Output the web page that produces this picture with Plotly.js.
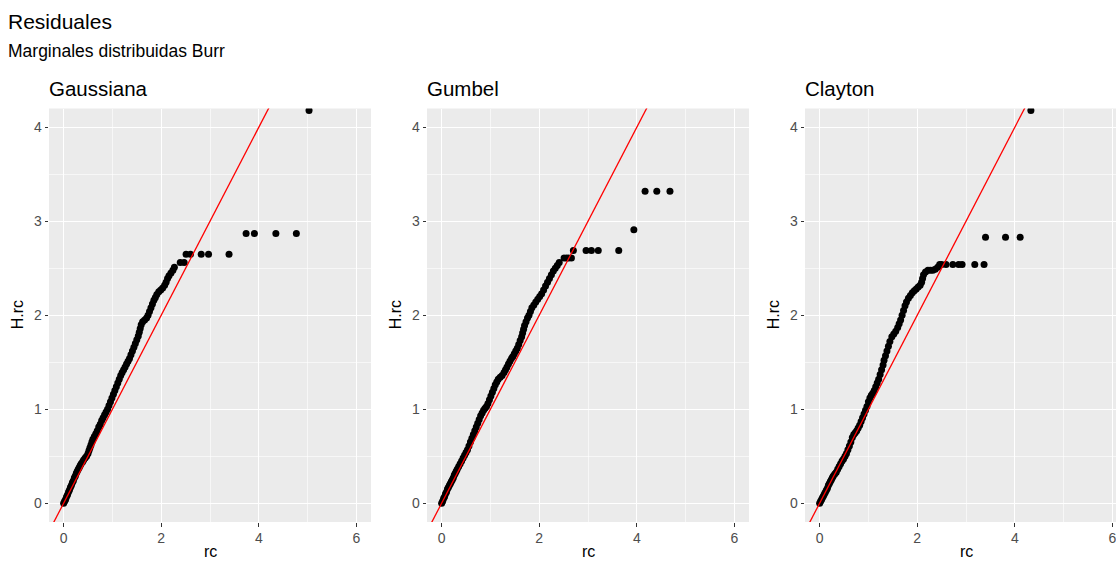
<!DOCTYPE html>
<html>
<head>
<meta charset="utf-8">
<script src="https://cdn.plot.ly/plotly-3.0.1.min.js"></script>
<style>
html, body { margin: 0; padding: 0; overflow: hidden; background: #ffffff; }
#chart { width: 1130px; height: 562px; }
</style>
</head>
<body>
<div id="chart"></div>
<script>
// ---------------- DATA ----------------
const panelTitles = ["Gaussiana", "Gumbel", "Clayton"];
const chartTitle = "Residuales";
const chartSubtitle = "Marginales distribuidas Burr";
const xLabel = "rc";
const yLabel = "H.rc";
const xTicks = [0, 2, 4, 6];
const yTicks = [0, 1, 2, 3, 4];
// reference line y = intercept + slope * x
const ablineIntercept = 0;
const ablineSlope = 1;

const gaussRc = [0.00,0.02,0.04,0.06,0.08,0.10,0.12,0.14,0.16,0.18,0.20,0.22,0.24,0.26,0.28,0.30,0.32,0.34,0.36,0.39,0.41,0.44,0.47,0.50,0.52,0.54,0.56,0.58,0.60,0.63,0.66,0.69,0.72,0.75,0.78,0.81,0.84,0.87,0.90,0.93,0.96,0.99,1.02,1.05,1.08,1.11,1.14,1.17,1.20,1.23,1.26,1.29,1.32,1.35,1.38,1.41,1.44,1.47,1.50,1.53,1.55,1.57,1.59,1.62,1.66,1.70,1.73,1.76,1.79,1.82,1.85,1.88,1.91,1.95,1.99,2.03,2.07,2.10,2.13,2.16,2.20,2.24,2.27,
  2.39,2.47,2.51,2.60,2.82,2.97,3.39,3.74,3.91,4.35,4.77,5.03];
const gaussHrc = [0.00,0.02,0.04,0.07,0.09,0.12,0.14,0.17,0.19,0.22,0.24,0.27,0.29,0.32,0.34,0.36,0.38,0.40,0.42,0.44,0.46,0.48,0.50,0.53,0.56,0.59,0.62,0.65,0.68,0.71,0.74,0.77,0.81,0.84,0.88,0.91,0.94,0.97,1.00,1.04,1.08,1.12,1.16,1.20,1.24,1.28,1.32,1.36,1.39,1.42,1.45,1.48,1.51,1.54,1.58,1.62,1.66,1.70,1.74,1.78,1.82,1.86,1.90,1.93,1.95,1.97,2.00,2.04,2.08,2.12,2.16,2.19,2.22,2.25,2.27,2.29,2.32,2.35,2.39,2.42,2.45,2.48,2.51,
  2.56,2.56,2.65,2.65,2.65,2.65,2.65,2.87,2.87,2.87,2.87,4.18];

const gumbelRc = [0.00,0.02,0.04,0.06,0.08,0.10,0.12,0.14,0.16,0.18,0.20,0.22,0.24,0.26,0.28,0.30,0.32,0.35,0.38,0.41,0.44,0.47,0.50,0.53,0.56,0.59,0.62,0.65,0.68,0.71,0.74,0.77,0.80,0.83,0.86,0.89,0.92,0.95,0.98,1.01,1.04,1.07,1.10,1.13,1.16,1.20,1.24,1.28,1.31,1.34,1.37,1.40,1.43,1.46,1.49,1.52,1.55,1.58,1.61,1.64,1.66,1.68,1.70,1.73,1.76,1.79,1.82,1.85,1.89,1.93,1.97,2.01,2.05,2.09,2.13,2.17,2.21,2.25,2.29,2.33,2.37,2.41,
  2.51,2.56,2.60,2.66,2.70,2.96,3.07,3.21,3.63,3.94,4.17,4.41,4.68];
const gumbelHrc = [0.00,0.02,0.05,0.07,0.10,0.12,0.15,0.17,0.19,0.21,0.23,0.25,0.27,0.30,0.32,0.34,0.36,0.39,0.42,0.45,0.48,0.51,0.54,0.57,0.61,0.65,0.69,0.73,0.77,0.81,0.85,0.89,0.93,0.96,0.99,1.01,1.03,1.06,1.10,1.14,1.18,1.22,1.26,1.29,1.32,1.34,1.36,1.39,1.42,1.45,1.48,1.51,1.54,1.56,1.59,1.62,1.65,1.69,1.73,1.77,1.81,1.85,1.89,1.93,1.97,2.00,2.04,2.08,2.11,2.14,2.17,2.20,2.23,2.27,2.31,2.35,2.39,2.43,2.47,2.50,2.53,2.56,
  2.61,2.61,2.61,2.61,2.69,2.69,2.69,2.69,2.69,2.91,3.32,3.32,3.32];

const claytonRc = [0.00,0.02,0.04,0.06,0.08,0.10,0.12,0.14,0.16,0.18,0.20,0.22,0.24,0.26,0.28,0.31,0.34,0.37,0.40,0.43,0.46,0.49,0.52,0.55,0.58,0.61,0.64,0.67,0.70,0.73,0.76,0.79,0.82,0.85,0.88,0.91,0.94,0.97,1.00,1.03,1.06,1.09,1.12,1.15,1.18,1.21,1.24,1.27,1.30,1.32,1.35,1.38,1.41,1.44,1.48,1.52,1.56,1.60,1.63,1.66,1.69,1.72,1.75,1.78,1.82,1.86,1.90,1.94,1.98,2.02,2.06,2.09,2.11,2.13,2.17,2.22,2.27,2.32,2.37,2.42,2.46,
  2.50,2.59,2.73,2.85,2.92,3.18,3.37,3.40,3.81,4.11,4.33];
const claytonHrc = [0.00,0.02,0.04,0.06,0.08,0.10,0.12,0.14,0.16,0.19,0.21,0.23,0.25,0.27,0.29,0.31,0.33,0.36,0.39,0.42,0.45,0.47,0.50,0.53,0.57,0.61,0.65,0.70,0.73,0.75,0.77,0.80,0.83,0.87,0.91,0.95,0.99,1.03,1.08,1.12,1.15,1.17,1.20,1.24,1.28,1.32,1.37,1.42,1.47,1.52,1.57,1.62,1.67,1.72,1.77,1.80,1.83,1.87,1.91,1.95,2.00,2.05,2.10,2.14,2.18,2.21,2.24,2.26,2.28,2.30,2.32,2.35,2.39,2.43,2.46,2.48,2.48,2.48,2.49,2.51,2.54,
  2.54,2.54,2.54,2.54,2.54,2.54,2.54,2.83,2.83,2.83,4.18];

const seriesX = [gaussRc, gumbelRc, claytonRc];
const seriesY = [gaussHrc, gumbelHrc, claytonHrc];

// ---------------- LAYOUT ----------------
const W = 1130, H = 562;
const xRange = [-0.3, 6.3];
const yRange = [-0.2, 4.2];
const panelLeft = [49, 427, 805];
const panelWidth = 322;
const panelTop = 108.5, panelBottom = 522;
const px = v => v / W;
const py = v => (H - v) / H;

const font = "Liberation Sans, Arial, Helvetica, sans-serif";
const traces = [];
const layout = {
  width: W, height: H,
  margin: {l: 0, r: 0, t: 0, b: 0, pad: 0},
  paper_bgcolor: "#ffffff",
  plot_bgcolor: "#EBEBEB",
  showlegend: false,
  font: {family: font, color: "#000000"},
  annotations: [],
};

for (let i = 0; i < 3; i++) {
  const sfx = i === 0 ? "" : String(i + 1);
  const xa = "x" + sfx, ya = "y" + sfx;
  traces.push({
    type: "scatter", mode: "markers",
    x: seriesX[i], y: seriesY[i],
    xaxis: xa, yaxis: ya,
    marker: {color: "#000000", size: 7, line: {width: 0}},
    cliponaxis: true, hoverinfo: "skip"
  });
  const lx = [xRange[0], xRange[1]];
  traces.push({
    type: "scatter", mode: "lines",
    x: lx, y: lx.map(v => ablineIntercept + ablineSlope * v),
    xaxis: xa, yaxis: ya,
    line: {color: "#FF0000", width: 1.3},
    hoverinfo: "skip"
  });
  const common = {
    showgrid: true, gridcolor: "#FFFFFF", gridwidth: 1.3,
    zeroline: false, showline: false,
    ticks: "outside", ticklen: 3.5, tickwidth: 1, tickcolor: "#333333",
    tickfont: {family: font, size: 14, color: "#4D4D4D"},
    tickmode: "array", fixedrange: true, automargin: false,
  };
  layout["xaxis" + sfx] = Object.assign({}, common, {
    domain: [px(panelLeft[i]), px(panelLeft[i] + panelWidth)],
    range: xRange, tickvals: xTicks, ticktext: xTicks.map(String),
    anchor: ya,
    minor: {tickmode: "array", tickvals: [1, 3, 5], showgrid: true, gridcolor: "#FFFFFF", gridwidth: 0.6, ticks: ""}
  });
  layout["yaxis" + sfx] = Object.assign({}, common, {
    domain: [py(panelBottom), py(panelTop)],
    range: yRange, tickvals: yTicks, ticktext: yTicks.map(String),
    anchor: xa,
    minor: {tickmode: "array", tickvals: [0.5, 1.5, 2.5, 3.5], showgrid: true, gridcolor: "#FFFFFF", gridwidth: 0.6, ticks: ""}
  });
  // panel title
  layout.annotations.push({
    text: panelTitles[i], xref: "paper", yref: "paper",
    x: px(panelLeft[i] - 2), y: py(88), xanchor: "left", yanchor: "middle",
    showarrow: false, font: {family: font, size: 20.5, color: "#000000"}
  });
  // x axis title
  layout.annotations.push({
    text: xLabel, xref: "paper", yref: "paper",
    x: px(panelLeft[i] + panelWidth / 2), y: py(551), xanchor: "center", yanchor: "middle",
    showarrow: false, font: {family: font, size: 16, color: "#000000"}
  });
  // y axis title
  layout.annotations.push({
    text: yLabel, xref: "paper", yref: "paper",
    x: px(panelLeft[i] - 32), y: py((panelTop + panelBottom) / 2), xanchor: "center", yanchor: "middle",
    textangle: -90,
    showarrow: false, font: {family: font, size: 16, color: "#000000"}
  });
}

layout.annotations.push({
  text: chartTitle, xref: "paper", yref: "paper",
  x: px(6), y: py(22), xanchor: "left", yanchor: "middle",
  showarrow: false, font: {family: font, size: 21, color: "#000000"}
});
layout.annotations.push({
  text: chartSubtitle, xref: "paper", yref: "paper",
  x: px(6), y: py(51), xanchor: "left", yanchor: "middle",
  showarrow: false, font: {family: font, size: 17.5, color: "#000000"}
});

Plotly.newPlot("chart", traces, layout, {displayModeBar: false, staticPlot: true});
</script>
</body>
</html>
